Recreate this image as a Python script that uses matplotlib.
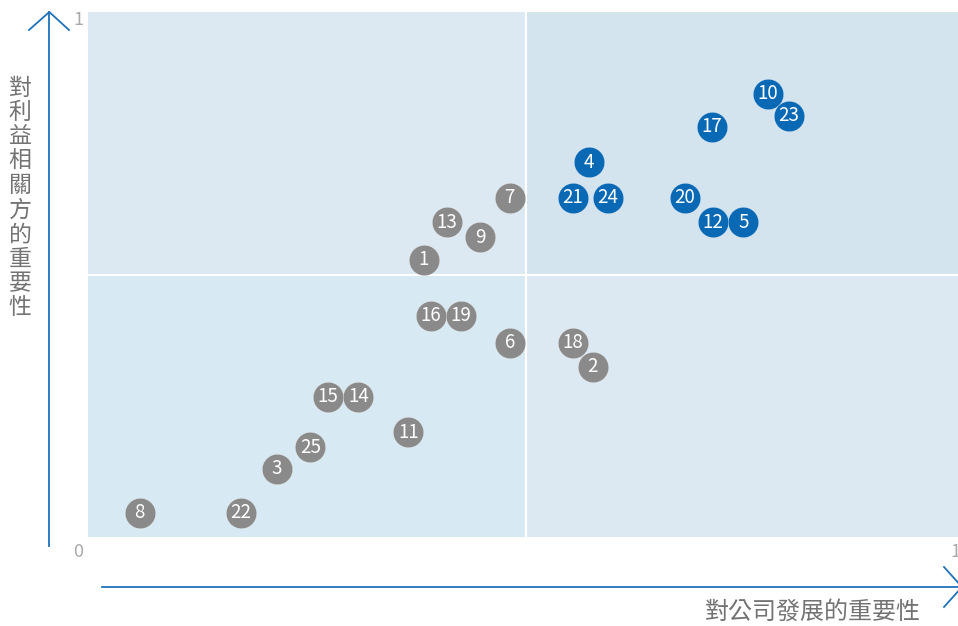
import matplotlib
matplotlib.use("Agg")
import matplotlib.pyplot as plt
from matplotlib.lines import Line2D
from matplotlib.patches import Rectangle

plt.rcParams['font.family'] = ['Noto Sans CJK TC', 'DejaVu Sans']

labels = ['8', '22', '3', '25', '15', '14', '11', '16', '19', '6', '18', '2',
          '1', '13', '9', '7', '21', '24', '4', '20', '12', '5', '17', '10', '23']
x_vals = [0.059, 0.175, 0.216, 0.254, 0.274, 0.309, 0.366, 0.392, 0.426, 0.482, 0.554, 0.577,
          0.384, 0.410, 0.448, 0.482, 0.554, 0.594, 0.573, 0.682, 0.714, 0.749, 0.713, 0.777, 0.801]
y_vals = [0.046, 0.046, 0.130, 0.171, 0.267, 0.267, 0.200, 0.421, 0.421, 0.370, 0.370, 0.324,
          0.528, 0.600, 0.571, 0.646, 0.646, 0.646, 0.714, 0.646, 0.600, 0.600, 0.781, 0.844, 0.802]
highlight = ['21', '24', '4', '20', '12', '5', '17', '10', '23']

y_title = '對利益相關方的重要性'
x_title = '對公司發展的重要性'

W, H = 958, 626
fig = plt.figure(figsize=(W / 100, H / 100), dpi=100)

def fx(px):
    return px / W

def fy(py):
    return 1 - py / H

ax = fig.add_axes([fx(88), fy(537), fx(963) - fx(88), fy(12) - fy(537)])
ax.set_xlim(0, 1)
ax.set_ylim(0, 1)
ax.axis('off')

quad = [((0, 0.5), '#dde9f2'), ((0.5, 0.5), '#d4e4ef'), ((0, 0), '#d7e9f3'), ((0.5, 0), '#dde9f2')]
for (qx, qy), c in quad:
    ax.add_patch(Rectangle((qx, qy), 0.5, 0.5, facecolor=c, edgecolor='none', zorder=0))
ax.axvline(0.5, color='white', lw=1.5, zorder=1)
ax.axhline(0.5, color='white', lw=1.5, zorder=1)

blue = '#0a69b5'
gray = '#8a8a8a'
for lab, xv, yv in zip(labels, x_vals, y_vals):
    c = blue if lab in highlight else gray
    ax.scatter([xv], [yv], s=480, color=c, edgecolors=(1, 1, 1, 0.5), linewidths=0.4, zorder=3)
    ax.text(xv, yv, lab, color='white', fontsize=13.5, ha='center', va='center',
            zorder=4, fontweight='light')

acol = '#1f72b8'
# y axis arrow
fig.add_artist(Line2D([fx(49), fx(49)], [fy(546), fy(12)], color=acol, lw=1.3))
fig.add_artist(Line2D([fx(29), fx(49.3), fx(69)], [fy(30), fy(12), fy(30)], color=acol, lw=1.3))
# x axis arrow
fig.add_artist(Line2D([fx(102), fx(962)], [fy(587), fy(587)], color=acol, lw=1.3))
fig.add_artist(Line2D([fx(944), fx(962), fx(944)], [fy(567), fy(587), fy(607)], color=acol, lw=1.3))

tcol = '#aaaaaa'
fig.text(fx(78), fy(20), '1', color=tcol, fontsize=13, ha='center', va='center', fontweight='light')
fig.text(fx(78), fy(552), '0', color=tcol, fontsize=13, ha='center', va='center', fontweight='light')
fig.text(fx(955), fy(552), '1', color=tcol, fontsize=13, ha='center', va='center', fontweight='light')

lcol = '#737373'
fig.text(fx(20), fy(198), '\n'.join(y_title), color=lcol, fontsize=16.5, ha='center', va='center',
         linespacing=1.08, fontweight='light')
fig.text(fx(813), fy(612), x_title, color=lcol, fontsize=17.3, ha='center', va='center',
         fontweight='light')

fig.savefig('out.png', dpi=100)
